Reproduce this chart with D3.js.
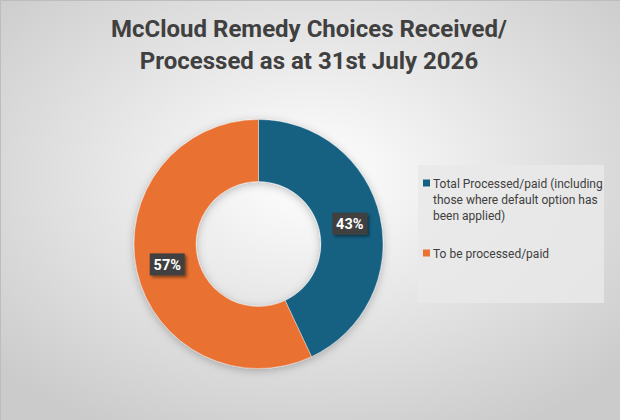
<!DOCTYPE html>
<html>
<head>
<meta charset="utf-8">
<script src="https://cdn.jsdelivr.net/npm/d3@7"></script>
<style>
  html, body { margin: 0; padding: 0; background: #fff; }
  #chart { width: 620px; height: 420px; }
  text { font-family: Roboto, "Noto Sans", sans-serif; }
</style>
</head>
<body>
<div id="chart"></div>
<script>
const width = 620;
const height = 420;

// Chart data
const titleLines = ["McCloud Remedy Choices Received/", "Processed as at 31st July 2026"];
const categories = ["Total Processed/paid (including those where default option has been applied)", "To be processed/paid"];
const legendLines = [["Total Processed/paid (including", "those where default option has", "been applied)"], ["To be processed/paid"]];
const values = [43, 57];
const colours = ["#156082", "#E97132"];

const svg = d3.select("#chart").append("svg")
  .attr("width", width)
  .attr("height", height);

const defs = svg.append("defs");

// background gradient
const bg = defs.append("radialGradient")
  .attr("id", "bg")
  .attr("cx", "50%").attr("cy", "42%").attr("r", "68%");
bg.append("stop").attr("offset", "0%").attr("stop-color", "#ffffff");
bg.append("stop").attr("offset", "100%").attr("stop-color", "#cbcbcb");

const shadow = defs.append("filter").attr("id", "shadow")
  .attr("x", "-30%").attr("y", "-30%").attr("width", "160%").attr("height", "160%");
shadow.append("feDropShadow").attr("dx", 0).attr("dy", 2).attr("stdDeviation", 4)
  .attr("flood-color", "#000").attr("flood-opacity", 0.25);

const lblShadow = defs.append("filter").attr("id", "lblshadow")
  .attr("x", "-30%").attr("y", "-30%").attr("width", "160%").attr("height", "160%");
lblShadow.append("feDropShadow").attr("dx", 2).attr("dy", 2).attr("stdDeviation", 1.5)
  .attr("flood-color", "#000").attr("flood-opacity", 0.45);

svg.append("rect")
  .attr("width", width).attr("height", height)
  .attr("fill", "url(#bg)");

// thin frame on top / left
svg.append("path")
  .attr("d", `M0.5,${height} V0.5 H${width}`)
  .attr("fill", "none")
  .attr("stroke", "#bdbdbd");

// Title
svg.append("g")
  .selectAll("text")
  .data(titleLines)
  .join("text")
  .attr("x", 309)
  .attr("y", (d, i) => 37 + i * 31.5)
  .attr("text-anchor", "middle")
  .attr("font-size", 24)
  .attr("font-weight", "bold")
  .attr("fill", "#404040")
  .text(d => d);

// Donut
const cx = 258.5, cy = 244;
const outerR = 124.5, innerR = 62.5;

const pie = d3.pie().sort(null).value(d => d);
const arcs = pie(values);
const arc = d3.arc().innerRadius(innerR).outerRadius(outerR);
const labelArc = d3.arc().innerRadius((innerR + outerR) / 2).outerRadius((innerR + outerR) / 2);

const donut = svg.append("g")
  .attr("transform", `translate(${cx},${cy})`);

donut.append("g")
  .attr("filter", "url(#shadow)")
  .selectAll("path")
  .data(arcs)
  .join("path")
  .attr("d", arc)
  .attr("fill", (d, i) => colours[i])
  .attr("stroke", "#ffffff")
  .attr("stroke-opacity", 0.6)
  .attr("stroke-width", 0.6);

// Data labels
const total = d3.sum(values);
const labels = donut.append("g")
  .selectAll("g")
  .data(arcs)
  .join("g")
  .attr("transform", d => `translate(${labelArc.centroid(d)})`);

labels.append("rect")
  .attr("x", -17.5).attr("y", -11)
  .attr("width", 35).attr("height", 22)
  .attr("fill", "#404040")
  .attr("filter", "url(#lblshadow)");

labels.append("text")
  .attr("text-anchor", "middle")
  .attr("dy", "0.36em")
  .attr("font-size", 14.5)
  .attr("font-weight", "bold")
  .attr("fill", "#ffffff")
  .text(d => d3.format(".0%")(d.value / total));

// Legend
svg.append("rect")
  .attr("x", 418).attr("y", 165)
  .attr("width", 186).attr("height", 138)
  .attr("fill", "#e9e9e9")
  .attr("fill-opacity", 0.85);

const legendTop = [183, 253];
const legend = svg.append("g")
  .selectAll("g")
  .data(categories)
  .join("g")
  .attr("transform", (d, i) => `translate(423,${legendTop[i]})`);

legend.append("rect")
  .attr("x", 0).attr("y", -3.5)
  .attr("width", 7).attr("height", 7)
  .attr("fill", (d, i) => colours[i]);

legend.append("text")
  .attr("fill", "#404040")
  .attr("font-size", 12)
  .selectAll("tspan")
  .data((d, i) => legendLines[i])
  .join("tspan")
  .attr("x", 10)
  .attr("y", (d, j) => 4.5 + j * 16)
  .text(d => d);
</script>
</body>
</html>
